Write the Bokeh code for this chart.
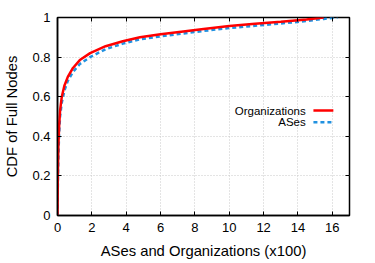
from bokeh.plotting import figure
from bokeh.models import LinearAxis, Range1d, FixedTicker
from bokeh.core.properties import value
from bokeh.embed import file_html
from bokeh.resources import INLINE

# CDF of full nodes over organizations / ASes (counts in hundreds)
org_x = [0, 0.02, 0.05, 0.1, 0.15, 0.25, 0.4, 0.6, 0.9, 1.3, 1.9, 2.8, 3.8, 4.8, 6, 7.2, 8.5, 10, 11.5, 13, 14.5, 15.5]
org_y = [0, 0.2, 0.35, 0.46, 0.53, 0.6, 0.655, 0.70, 0.745, 0.785, 0.82, 0.855, 0.88, 0.90, 0.915, 0.928, 0.942, 0.957, 0.968, 0.978, 0.99, 1.0]

as_x = [0, 0.02, 0.05, 0.1, 0.15, 0.25, 0.4, 0.6, 0.9, 1.3, 1.9, 2.8, 3.8, 4.8, 6, 7.2, 8.5, 10, 11.5, 13, 14.5, 15.5, 16.3]
as_y = [0, 0.15, 0.3, 0.42, 0.5, 0.57, 0.63, 0.68, 0.725, 0.765, 0.80, 0.84, 0.868, 0.89, 0.905, 0.918, 0.932, 0.947, 0.958, 0.97, 0.982, 0.993, 1.0]

x_ticks = [0, 2, 4, 6, 8, 10, 12, 14, 16]
y_ticks = [0, 0.2, 0.4, 0.6, 0.8, 1]
y_tick_labels = {0: "0", 0.2: "0.2", 0.4: "0.4", 0.6: "0.6", 0.8: "0.8", 1: "1"}

series_names = ["Organizations", "ASes"]

FONT = "Liberation Sans"
RED = "#ff0000"
BLUE = "#2191e0"

p = figure(width=375, height=263, output_backend="svg", toolbar_location=None,
           x_range=Range1d(0, 17), y_range=Range1d(0, 1),
           min_border_left=57, min_border_right=26, min_border_top=17, min_border_bottom=48)
p.background_fill_color = "white"
p.border_fill_color = "white"
p.outline_line_color = "black"
p.outline_line_width = 1.5

for ax in (p.xaxis[0], p.yaxis[0]):
    ax.major_tick_in = 4
    ax.major_tick_out = 0
    ax.minor_tick_in = 0
    ax.minor_tick_out = 0
    ax.axis_line_color = "black"
    ax.axis_line_width = 1.5
    ax.major_label_text_font = FONT
    ax.major_label_text_font_size = "13px"
    ax.major_label_text_color = "black"
    ax.axis_label_text_font = FONT
    ax.axis_label_text_font_size = "14.8px"
    ax.axis_label_text_font_style = "normal"
    ax.axis_label_text_color = "black"

p.xaxis[0].ticker = FixedTicker(ticks=x_ticks)
p.yaxis[0].ticker = FixedTicker(ticks=y_ticks)
p.yaxis[0].major_label_overrides = y_tick_labels
p.xaxis[0].axis_label = "ASes and Organizations (x100)"
p.yaxis[0].axis_label = "CDF of Full Nodes"
p.xaxis[0].major_label_standoff = 7
p.yaxis[0].major_label_standoff = 7
p.xaxis[0].axis_label_standoff = 8
p.yaxis[0].axis_label_standoff = 9

# mirrored inward ticks on top and right
top = LinearAxis(ticker=FixedTicker(ticks=x_ticks), major_tick_in=4, major_tick_out=0,
                 minor_tick_in=0, minor_tick_out=0,
                 major_label_overrides={t: "" for t in x_ticks},
                 major_label_standoff=0, axis_line_color=None)
right = LinearAxis(ticker=FixedTicker(ticks=y_ticks), major_tick_in=4, major_tick_out=0,
                   minor_tick_in=0, minor_tick_out=0,
                   major_label_overrides={t: "" for t in y_ticks},
                   major_label_standoff=0, axis_line_color=None)
p.add_layout(top, "above")
p.add_layout(right, "right")

p.xgrid.grid_line_color = "#c8c8c8"
p.ygrid.grid_line_color = "#c8c8c8"
p.xgrid.grid_line_dash = "1 2"
p.ygrid.grid_line_dash = "1 2"
p.xgrid.ticker = FixedTicker(ticks=x_ticks)
p.ygrid.ticker = FixedTicker(ticks=y_ticks)

p.line(as_x, as_y, line_color=BLUE, line_width=2.5, line_dash="4 3")
p.line(org_x, org_y, line_color=RED, line_width=2.5)

# key, right-aligned text followed by a line sample
key_y = [0.53, 0.471]
p.text(x=[14.45, 14.45], y=key_y, text=series_names, text_align="right",
       text_baseline="middle", text_font=value(FONT), text_font_size="11.5px",
       text_color="black")
p.line([14.9, 16.06], [key_y[0], key_y[0]], line_color=RED, line_width=2.5)
p.line([14.9, 16.06], [key_y[1], key_y[1]], line_color=BLUE, line_width=2.5, line_dash="4 3")

open("out.html", "w").write(file_html(p, INLINE))
